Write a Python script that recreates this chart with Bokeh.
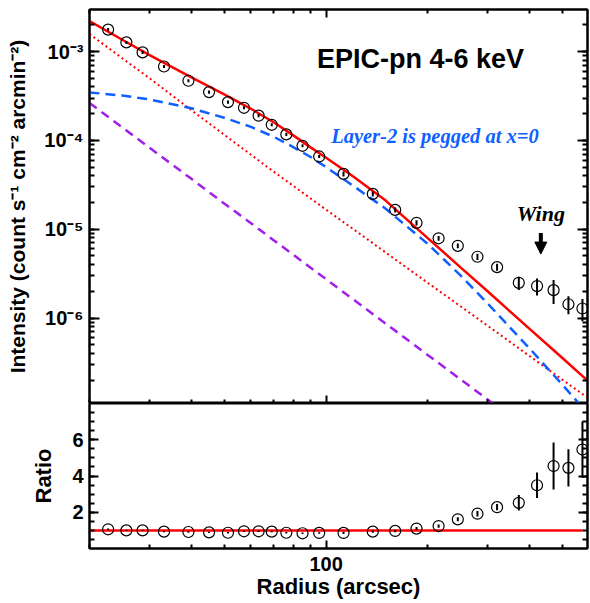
import numpy as np
from bokeh.embed import file_html
from bokeh.layouts import column
from bokeh.models import (Arrow, ColumnDataSource, CustomJSTickFormatter, FixedTicker,
                          Label, LinearAxis, LogAxis, LogTicker, NormalHead)
from bokeh.plotting import figure
from bokeh.resources import INLINE

# radial profile, EPIC-pn 4-6 keV
radius = [22.7, 25.7, 28.7, 33.2, 39.2, 45.1, 51.3, 57.2, 63.2, 69.1, 76.3, 85.2, 95.4,
          112.6, 137.4, 160, 185, 215, 245, 280, 320, 371, 420, 470, 520, 572]
intensity = [1.77e-3, 1.27e-3, 9.8e-4, 6.8e-4, 4.7e-4, 3.5e-4, 2.7e-4, 2.33e-4, 1.9e-4,
             1.5e-4, 1.17e-4, 8.7e-5, 6.6e-5, 4.2e-5, 2.5e-5, 1.65e-5, 1.18e-5, 7.9e-6,
             6.5e-6, 4.9e-6, 3.74e-6, 2.49e-6, 2.29e-6, 2.06e-6, 1.43e-6, 1.28e-6]
intensity_err = [7e-5, 5e-5, 4e-5, 2.7e-5, 1.9e-5, 1.4e-5, 1.1e-5, 9e-6, 8e-6, 6e-6, 5e-6,
                 3.5e-6, 2.6e-6, 2.7e-6, 1.6e-6, 1.1e-6, 8e-7, 5e-7, 4e-7, 4e-7, 3.4e-7,
                 4.2e-7, 5e-7, 6.2e-7, 3.3e-7, 3.6e-7]
ratio = [1.06, 1.0, 1.0, 0.93, 0.91, 0.89, 0.87, 0.95, 0.95, 0.93, 0.87, 0.84, 0.86,
         0.86, 0.93, 0.97, 1.10, 1.24, 1.61, 1.92, 2.28, 2.52, 3.49, 4.55, 4.45, 5.46]
ratio_err = [0.04, 0.04, 0.04, 0.04, 0.04, 0.04, 0.04, 0.04, 0.04, 0.04, 0.04, 0.04, 0.04,
             0.06, 0.06, 0.07, 0.08, 0.09, 0.11, 0.15, 0.17, 0.43, 0.71, 1.30, 1.03, 1.55]

# model curves
model_r = [20, 25, 30, 40, 50, 60, 70, 80, 90, 100, 120, 150, 200, 250, 300, 400, 500, 590]
model_total = [2.2e-3, 1.36e-3, 9.2e-4, 5.14e-4, 3.3e-4, 2.27e-4, 1.6e-4, 1.14e-4, 8.35e-5,
               6.37e-5, 3.94e-5, 2.1e-5, 7.9e-6, 3.7e-6, 2.0e-6, 7.5e-7, 3.52e-7, 2.0e-7]
model_layer1 = [1.58e-3, 8.4e-4, 5.06e-4, 2.19e-4, 1.16e-4, 6.9e-5, 4.45e-5, 3.08e-5, 2.22e-5,
                1.66e-5, 1.01e-5, 5.47e-6, 2.48e-6, 1.35e-6, 8.2e-7, 3.71e-7, 2.01e-7, 1.28e-7]
model_layer2 = [3.47e-4, 3.2e-4, 2.9e-4, 2.3e-4, 1.8e-4, 1.42e-4, 1.1e-4, 8.4e-5, 6.5e-5,
                5.0e-5, 3.1e-5, 1.7e-5, 6.8e-6, 3.0e-6, 1.46e-6, 4.5e-7, 1.76e-7, 8.6e-8]
model_layer3 = [2.64e-4, 1.40e-4, 8.34e-5, 3.69e-5, 1.95e-5, 1.17e-5, 7.52e-6, 5.16e-6, 3.69e-6,
                2.74e-6, 1.63e-6, 8.65e-7, 3.82e-7, 2.03e-7, 1.21e-7, 5.33e-8, 2.84e-8, 1.77e-8]
ratio_line_r = [20, 572]
ratio_line = [1.0, 1.0]

x_major = [100]
x_minor = [20, 30, 40, 50, 60, 70, 80, 90, 200, 300, 400, 500]
ratio_major = [2, 4, 6]
ratio_minor = [0.5, 1, 1.5, 2, 2.5, 3, 3.5, 4, 4.5, 5, 5.5, 6, 6.5, 7, 7.5]

FONT = "Liberation Sans"
RED = "#ff0000"
BLUE = "#1060ff"
PURPLE = "#a020e8"

sup_code = """
const sup = {"-": "\u207b", "0": "\u2070", "1": "\u00b9", "2": "\u00b2", "3": "\u00b3",
             "4": "\u2074", "5": "\u2075", "6": "\u2076", "7": "\u2077", "8": "\u2078",
             "9": "\u2079"};
const e = String(Math.round(Math.log10(tick)));
return "10" + e.split("").map((c) => sup[c]).join("");
"""


def style_axis(ax, major_in, minor_in, label_size=None, standoff=0):
    ax.major_tick_in = major_in
    ax.major_tick_out = 0
    ax.minor_tick_in = minor_in
    ax.minor_tick_out = 0
    ax.axis_line_width = 2
    ax.major_tick_line_width = 2
    ax.minor_tick_line_width = 2
    ax.major_label_text_font = FONT
    ax.major_label_text_font_style = "bold"
    ax.major_label_text_color = "black"
    ax.major_label_standoff = standoff
    if label_size is None:
        # ticks only: tiny invisible labels
        ax.major_label_text_font_size = "1px"
        ax.major_label_text_alpha = 0
    else:
        ax.major_label_text_font_size = label_size
    ax.axis_label_text_font = FONT
    ax.axis_label_text_font_style = "bold"
    ax.axis_label_text_color = "black"


def x_ticker():
    return FixedTicker(ticks=x_major, minor_ticks=x_minor)


# upper panel
p = figure(width=590, height=403, x_axis_type="log", y_axis_type="log",
           x_range=(20, 592), y_range=(1.09e-7, 2.98e-3),
           output_backend="svg", toolbar_location=None,
           min_border_left=89, min_border_right=3, min_border_top=9, min_border_bottom=0)
p.xgrid.visible = False
p.ygrid.visible = False
p.outline_line_color = "black"
p.outline_line_width = 2
p.background_fill_color = "white"
p.border_fill_color = "white"

p.xaxis.ticker = x_ticker()
style_axis(p.xaxis[0], 8, 4)
p.yaxis.ticker = LogTicker(num_minor_ticks=10)
p.yaxis.formatter = CustomJSTickFormatter(code=sup_code)
style_axis(p.yaxis[0], 10, 5, "20px", 6)
p.yaxis.axis_label = "Intensity (count s\u207b\u00b9 cm\u207b\u00b2 arcmin\u207b\u00b2)"
p.yaxis.axis_label_text_font_size = "21px"
p.yaxis.axis_label_standoff = 12

top_ax = LogAxis(ticker=x_ticker())
style_axis(top_ax, 8, 4)
p.add_layout(top_ax, "above")
right_ax = LogAxis(ticker=LogTicker(num_minor_ticks=10))
style_axis(right_ax, 10, 5)
p.add_layout(right_ax, "right")

p.line(model_r, model_layer3, line_color=PURPLE, line_width=2.5, line_dash="9 6")
p.line(model_r, model_layer1, line_color=RED, line_width=2, line_dash="2 3")
p.line(model_r, model_layer2, line_color=BLUE, line_width=2.5, line_dash="10 6")
p.line(model_r, model_total, line_color=RED, line_width=2.5)

r = np.array(radius)
inten = np.array(intensity)
ierr = np.array(intensity_err)
src = ColumnDataSource(dict(r=r, y=inten, lo=inten - ierr, hi=inten + ierr))
p.segment(x0="r", y0="lo", x1="r", y1="hi", source=src, line_color="black", line_width=2)
p.scatter(x="r", y="y", source=src, marker="circle", size=11, fill_color=None,
          line_color="black", line_width=1.2)

p.add_layout(Label(x=94, y=8.3e-4, text="EPIC-pn 4-6 keV", text_font=FONT,
                   text_font_style="bold", text_font_size="27px", text_color="black",
                   text_baseline="middle"))
p.add_layout(Label(x=103.5, y=1.11e-4, text="Layer-2 is pegged at x=0",
                   text_font="Liberation Serif", text_font_style="bold italic",
                   text_font_size="20.5px", text_color=BLUE, text_baseline="middle"))
p.add_layout(Label(x=431, y=1.52e-5, text="Wing", text_font="Liberation Serif",
                   text_font_style="bold italic", text_font_size="22px", text_color="black",
                   text_align="center", text_baseline="middle"))
p.add_layout(Arrow(x_start=431, y_start=9.06e-6, x_end=431, y_end=5.25e-6,
                   line_color="black", line_width=4,
                   end=NormalHead(size=12, fill_color="black", line_color="black")))

# ratio panel
q = figure(width=590, height=200, x_axis_type="log", x_range=p.x_range, y_range=(0, 8),
           output_backend="svg", toolbar_location=None,
           min_border_left=89, min_border_right=3, min_border_top=0, min_border_bottom=55)
q.xgrid.visible = False
q.ygrid.visible = False
q.outline_line_color = "black"
q.outline_line_width = 2
q.background_fill_color = "white"
q.border_fill_color = "white"

q.xaxis.ticker = x_ticker()
q.xaxis.formatter = CustomJSTickFormatter(code="return tick.toFixed(0);")
style_axis(q.xaxis[0], 8, 4, "20px", 8)
q.xaxis.axis_label = "Radius (arcsec)"
q.xaxis.axis_label_text_font_size = "22px"
q.xaxis.axis_label_standoff = 0

q.yaxis.ticker = FixedTicker(ticks=ratio_major, minor_ticks=ratio_minor)
style_axis(q.yaxis[0], 9, 5, "20px", 6)
q.yaxis.axis_label = "Ratio"
q.yaxis.axis_label_text_font_size = "22px"
q.yaxis.axis_label_standoff = 13

q_right = LinearAxis(ticker=FixedTicker(ticks=ratio_major, minor_ticks=ratio_minor))
style_axis(q_right, 9, 5)
q.add_layout(q_right, "right")

q.line(ratio_line_r, ratio_line, line_color=RED, line_width=2.5)
rat = np.array(ratio)
rerr = np.array(ratio_err)
rsrc = ColumnDataSource(dict(r=r, y=rat, lo=rat - rerr, hi=rat + rerr))
q.segment(x0="r", y0="lo", x1="r", y1="hi", source=rsrc, line_color="black", line_width=2)
q.scatter(x="r", y="y", source=rsrc, marker="circle", size=11, fill_color=None,
          line_color="black", line_width=1.2)

layout = column(p, q, spacing=0)
open("out.html", "w").write(file_html(layout, INLINE))
